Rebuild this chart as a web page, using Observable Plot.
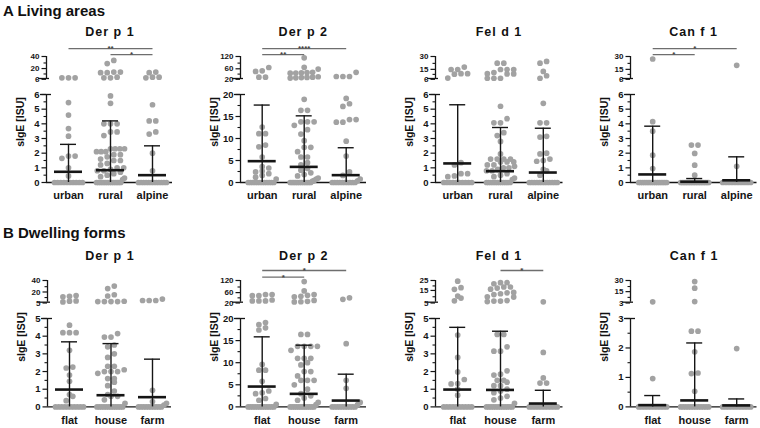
<!DOCTYPE html>
<html><head><meta charset="utf-8">
<script src="https://cdn.jsdelivr.net/npm/d3@7"></script>
<script src="https://cdn.jsdelivr.net/npm/@observablehq/plot@0.6"></script>
<style>
body{margin:0;background:#fff;}
#chart{position:relative;width:760px;height:428px;overflow:hidden;font-family:"Liberation Sans",Arial,sans-serif;color:#111;}
.abs{position:absolute;line-height:1;white-space:nowrap;}
.section{font-size:15px;font-weight:bold;}
.ptitle{font-size:12.5px;font-weight:bold;letter-spacing:1px;transform:translateX(-50%);}
.ylab{font-size:10.5px;font-weight:bold;transform:translate(-50%,-50%) rotate(-90deg);}
</style></head><body><div id="chart"></div>
<script>
// ---------- text ----------
const sectionTitles = ["A Living areas", "B Dwelling forms"];
const livingGroups = ["urban", "rural", "alpine"];
const dwellingGroups = ["flat", "house", "farm"];
const allergens = ["Der p 1", "Der p 2", "Fel d 1", "Can f 1"];
const yLabel = "sIgE [ISU]";

// ---------- A Living areas ----------
const livDerp1Urban = [7, 7, 7, 5.45, 4.6, 3.68, 3.16, 1.8, 1.8, 1.65, 1.0, 0.45, 0,0,0,0,0,0,0,0,0,0];
const livDerp1Rural = [34, 29, 16, 16, 15, 15, 8, 7, 7, 5.9, 5.4, 4.0, 4.0, 4.0, 3.45, 3.45, 3.2, 2.3, 2.3, 2.3, 2.3, 2.1, 2.1, 2.1, 1.9, 1.9, 1.75, 1.6, 1.5, 1.5, 1.3, 1.2, 1.0, 1.0, 0.9, 0.8, 0.8, 0.7, 0.6, 0.5, 0.4, 0.3, 0.2, 0,0,0,0,0,0,0,0,0,0,0,0,0,0];
const livDerp1Alpine = [16, 15, 8, 7, 8, 5.3, 4.2, 4.2, 3.45, 3.3, 2.0, 0.8, 0,0,0,0,0,0,0,0,0,0,0,0];
const livDerp1Median = [0.73, 0.84, 0.5];
const livDerp1Q3 = [2.6, 4.2, 2.5];
const livDerp1UpperTicks = [6, 20, 40];
const livDerp1LowerTicks = [0, 1, 2, 3, 4, 5, 6];
const livDerp1Brackets = [[0, 2, "**", 1], [1, 2, "*", 0]];

const livDerp2Urban = [70, 55, 52, 26, 26, 12.6, 11.1, 11.1, 8.5, 8.1, 5.8, 3.6, 3.3, 2.6, 2.4, 2.0, 1.6, 1.2, 0.8, 0,0,0,0,0,0,0,0,0,0,0,0];
const livDerp2Rural = [114, 71, 63, 48, 47, 46, 45, 44, 28, 26, 25, 24, 23, 22, 18.9, 16.4, 16.4, 13.8, 13.8, 13.8, 13.0, 12.0, 11.0, 9.5, 8.0, 8.0, 7.0, 5.8, 5.8, 4.5, 4.0, 3.2, 2.8, 2.2, 1.8, 1.5, 1.0, 0.8, 0.5, 0.3, 0,0,0,0,0,0,0,0,0,0,0,0];
const livDerp2Alpine = [48, 29, 29, 29, 19.1, 17.9, 17.3, 14.3, 14.3, 13.7, 13.7, 9.4, 6.0, 2.4, 1.6, 0.8, 0.4, 0,0,0,0,0,0,0,0,0,0];
const livDerp2Median = [4.85, 3.55, 1.67];
const livDerp2Q3 = [17.6, 15.15, 7.9];
const livDerp2UpperTicks = [20, 60, 120];
const livDerp2LowerTicks = [0, 5, 10, 15, 20];
const livDerp2Brackets = [[0, 2, "****", 1], [0, 1, "**", 0]];

const livFeld1Urban = [18.5, 15.8, 15.8, 11.3, 11.3, 10.7, 6.5, 1.35, 1.2, 0.6, 0.6, 0.45, 0.4, 0,0,0,0,0,0,0,0,0,0];
const livFeld1Rural = [22.7, 22.7, 15.8, 15.8, 15.8, 12.5, 11.3, 11, 11, 6.3, 6.3, 6.3, 5.2, 4.35, 4.07, 4.07, 3.4, 3.2, 2.8, 1.95, 1.6, 1.6, 1.6, 1.6, 1.4, 1.4, 1.4, 1.2, 1.2, 1.1, 1.0, 1.0, 0.9, 0.8, 0.8, 0.6, 0.5, 0.4, 0.3, 0.2, 0,0,0,0,0,0,0,0,0,0,0,0];
const livFeld1Alpine = [24.6, 22.7, 13.7, 9, 6.3, 5.4, 4.07, 4.07, 3.15, 3.1, 2.0, 1.95, 1.6, 1.5, 1.45, 0.9, 0.8, 0.5, 0,0,0,0,0,0,0,0,0,0,0,0];
const livFeld1Median = [1.3, 0.77, 0.68];
const livFeld1Q3 = [5.3, 3.75, 3.7];
const livFeld1UpperTicks = [6, 15, 30];
const livFeld1LowerTicks = [0, 1, 2, 3, 4, 5, 6];
const livFeld1Brackets = [];

const livCanf1Urban = [27.3, 4.15, 3.5, 1.86, 0.95, 0,0,0,0,0,0,0,0,0,0,0,0,0,0,0,0];
const livCanf1Rural = [2.55, 2.55, 1.98, 1.18, 0.5, 0,0,0,0,0,0,0,0,0,0,0,0,0,0,0,0,0,0];
const livCanf1Alpine = [20.4, 1.1, 0,0,0,0,0,0,0,0,0,0];
const livCanf1Median = [0.55, 0.05, 0.15];
const livCanf1Q3 = [3.84, 0.27, 1.75];
const livCanf1UpperTicks = [6, 15, 30];
const livCanf1LowerTicks = [0, 1, 2, 3, 4, 5, 6];
const livCanf1Brackets = [[0, 2, "*", 1], [0, 1, "*", 0]];

// ---------- B Dwelling forms ----------
const dwDerp1Flat = [15.7, 14.6, 13.8, 7.1, 6.6, 5.5, 4.62, 4.2, 4.2, 4.2, 3.2, 2.25, 2.2, 1.8, 1.45, 0.7, 0.6, 0.35, 0,0,0,0,0,0,0,0,0,0];
const dwDerp1House = [31, 27, 17, 15, 6.5, 6, 6, 6, 6, 4.15, 3.95, 3.95, 3.5, 3.4, 3.0, 2.8, 2.3, 2.3, 2.1, 2.0, 2.0, 2.0, 1.9, 1.6, 1.6, 1.4, 1.2, 0.9, 0.7, 0.6, 0.6, 0.4, 0.2, 0,0,0,0,0,0,0,0,0,0,0,0];
const dwDerp1Farm = [10, 7.7, 7.7, 7.7, 0.94, 0.3, 0.2, 0.1, 0,0,0,0,0,0,0,0,0,0];
const dwDerp1Median = [0.98, 0.66, 0.55];
const dwDerp1Q3 = [3.68, 3.58, 2.7];
const dwDerp1UpperTicks = [5, 20, 40];
const dwDerp1LowerTicks = [0, 1, 2, 3, 4, 5];
const dwDerp1Brackets = [];

const dwDerp2Flat = [55, 55, 50, 50, 30, 26, 26, 26, 19.1, 18.6, 17.9, 17.4, 9.6, 8.3, 8.3, 5.8, 3.6, 3.2, 3.0, 1.9, 1.5, 0.6, 0,0,0,0,0,0,0,0,0,0,0,0];
const dwDerp2House = [115, 72, 55, 52, 47, 45, 28, 24, 22, 21, 16.4, 16.4, 13.7, 13.7, 13.7, 13.7, 12.8, 11, 11, 11, 10, 9.5, 8, 8, 7, 6, 6, 6, 5, 4, 3, 2.5, 2, 1.5, 1, 0.5, 0,0,0,0,0,0,0,0,0,0,0,0];
const dwDerp2Farm = [40, 33, 14.3, 6.0, 4.2, 1.0, 0.5, 0,0,0,0,0,0,0,0,0,0];
const dwDerp2Median = [4.6, 2.95, 1.43];
const dwDerp2Q3 = [15.85, 13.96, 7.4];
const dwDerp2UpperTicks = [20, 60, 120];
const dwDerp2LowerTicks = [0, 5, 10, 15, 20];
const dwDerp2Brackets = [[0, 2, "*", 1], [0, 1, "*", 0]];

const dwFeld1Flat = [24.4, 18.4, 16.9, 10.6, 8.75, 6.25, 4.06, 2.8, 1.98, 1.55, 1.32, 1.3, 1.0, 0.66, 0,0,0,0,0,0,0,0,0,0];
const dwFeld1House = [23, 23, 22, 19, 19, 18, 17, 14, 13.6, 12.8, 12, 10, 9.7, 6.5, 6, 6, 5.6, 4.1, 4.1, 3.4, 3.15, 3.15, 2.04, 1.85, 1.8, 1.5, 1.5, 1.4, 1.2, 1.2, 1.0, 0.9, 0.8, 0.6, 0.5, 0.4, 0.2, 0,0,0,0,0,0,0,0,0,0,0,0];
const dwFeld1Farm = [5.3, 3.08, 1.64, 1.35, 1.35, 0,0,0,0,0,0,0,0,0,0];
const dwFeld1Median = [0.98, 0.96, 0.19];
const dwFeld1Q3 = [4.5, 4.28, 0.94];
const dwFeld1UpperTicks = [5, 15, 25];
const dwFeld1LowerTicks = [0, 1, 2, 3, 4, 5];
const dwFeld1Brackets = [[1, 2, "*", 1]];

const dwCanf1Flat = [3.5, 0.96, 0,0,0,0,0,0,0,0,0,0];
const dwCanf1House = [28.6, 20.5, 3.8, 2.57, 2.57, 1.87, 1.15, 1.13, 0.53, 0,0,0,0,0,0,0,0,0,0,0,0];
const dwCanf1Farm = [1.98, 0,0,0,0,0,0,0,0,0,0];
const dwCanf1Median = [0.06, 0.22, 0.05];
const dwCanf1Q3 = [0.385, 2.17, 0.27];
const dwCanf1UpperTicks = [3, 15, 30];
const dwCanf1LowerTicks = [0, 1, 2, 3];
const dwCanf1Brackets = [];

// ---------- layout ----------
const ink = "#151515", dotColor = "#a2a2a2", bracketColor = "#6e6e6e";
const fontFamily = '"Liberation Sans", Arial, Helvetica, sans-serif';
const rows = [
  {groups: livingGroups, yMaxU: 56, yBrkU: 78, yBrkL: 94.3, yZero: 182.3, titleBase: 36.5, ylabY: 122, sectionBase: 15.5, bracketDy: [-1.8, -7.8]},
  {groups: dwellingGroups, yMaxU: 280, yBrkU: 301.7, yBrkL: 318.3, yZero: 406.7, titleBase: 261, ylabY: 337, sectionBase: 237.5, bracketDy: [-3.4, -10]}
];
const panels = [
  {row: 0, name: allergens[0], values: [livDerp1Urban, livDerp1Rural, livDerp1Alpine], median: livDerp1Median, q3: livDerp1Q3, up: livDerp1UpperTicks, low: livDerp1LowerTicks, br: livDerp1Brackets, axisX: 46, cats: [68, 110, 152], xEnd: 172},
  {row: 0, name: allergens[1], values: [livDerp2Urban, livDerp2Rural, livDerp2Alpine], median: livDerp2Median, q3: livDerp2Q3, up: livDerp2UpperTicks, low: livDerp2LowerTicks, br: livDerp2Brackets, axisX: 240, cats: [261.7, 303.3, 345.7], xEnd: 366},
  {row: 0, name: allergens[2], values: [livFeld1Urban, livFeld1Rural, livFeld1Alpine], median: livFeld1Median, q3: livFeld1Q3, up: livFeld1UpperTicks, low: livFeld1LowerTicks, br: livFeld1Brackets, axisX: 434.5, cats: [456.7, 499, 542.3], xEnd: 562},
  {row: 0, name: allergens[3], values: [livCanf1Urban, livCanf1Rural, livCanf1Alpine], median: livCanf1Median, q3: livCanf1Q3, up: livCanf1UpperTicks, low: livCanf1LowerTicks, br: livCanf1Brackets, axisX: 629.5, cats: [651.7, 693.5, 735.7], xEnd: 756},
  {row: 1, name: allergens[0], values: [dwDerp1Flat, dwDerp1House, dwDerp1Farm], median: dwDerp1Median, q3: dwDerp1Q3, up: dwDerp1UpperTicks, low: dwDerp1LowerTicks, br: dwDerp1Brackets, axisX: 47, cats: [69, 110, 152], xEnd: 171},
  {row: 1, name: allergens[1], values: [dwDerp2Flat, dwDerp2House, dwDerp2Farm], median: dwDerp2Median, q3: dwDerp2Q3, up: dwDerp2UpperTicks, low: dwDerp2LowerTicks, br: dwDerp2Brackets, axisX: 240, cats: [261.7, 303.8, 345.7], xEnd: 366},
  {row: 1, name: allergens[2], values: [dwFeld1Flat, dwFeld1House, dwFeld1Farm], median: dwFeld1Median, q3: dwFeld1Q3, up: dwFeld1UpperTicks, low: dwFeld1LowerTicks, br: dwFeld1Brackets, axisX: 434.5, cats: [456.7, 499, 542.3], xEnd: 562},
  {row: 1, name: allergens[3], values: [dwCanf1Flat, dwCanf1House, dwCanf1Farm], median: dwCanf1Median, q3: dwCanf1Q3, up: dwCanf1UpperTicks, low: dwCanf1LowerTicks, br: dwCanf1Brackets, axisX: 629.5, cats: [651.7, 694, 735.7], xEnd: 756}
];

const chart = document.getElementById("chart");
function place(node, left, top) {
  const d = document.createElement("div");
  d.className = "abs"; d.style.left = left + "px"; d.style.top = top + "px";
  d.appendChild(node); chart.appendChild(d); return d;
}
function label(text, cls, left, top) {
  const d = document.createElement("div");
  d.className = "abs " + cls; d.textContent = text;
  d.style.left = left + "px"; d.style.top = top + "px";
  chart.appendChild(d); return d;
}
const mids = t => t.slice(1).map((v, k) => (v + t[k]) / 2);
const fmt = d => String(d);

// dot-plot layout: points at nearly the same height are spread sideways
function swarm(vals, toPx, unit, i, out) {
  const s = vals.slice().sort((a, b) => a - b);
  let cl = [];
  const flush = () => {
    const n = cl.length;
    const sp = n > 1 ? Math.min(6.6, 28 / (n - 1)) : 0;
    cl.forEach((v, k) => out.push({x: i + (k - (n - 1) / 2) * sp / unit, v}));
    cl = [];
  };
  for (const v of s) {
    if (cl.length && Math.abs(toPx(v) - toPx(cl[0])) > 4.5) flush();
    cl.push(v);
  }
  flush();
}

const svgStyle = {fontFamily, fontSize: "9px", fontWeight: "bold", overflow: "visible", background: "transparent", color: ink};

panels.forEach(p => {
  const r = rows[p.row];
  const groups = r.groups;
  const ML = 40, MR = 3;
  const svgLeft = p.axisX - ML;
  const width = p.xEnd + MR - svgLeft;
  const unit = (p.cats[2] - p.cats[0]) / 2;
  const lo = -(p.cats[0] - p.axisX) / unit;
  const hi = 2 + (p.xEnd - p.cats[2]) / unit;
  const brk = p.up[0], max = p.up[p.up.length - 1];
  const uMT = 22, uMB = 5, lMT = 6, lMB = 26;
  const uTop = r.yMaxU - uMT, uH = r.yBrkU + uMB - uTop;
  const lTop = r.yBrkL - lMT, lH = r.yZero + lMB - lTop;
  const uScale = d3.scaleLinear([brk, max], [r.yBrkU, r.yMaxU]);
  const lScale = d3.scaleLinear([0, brk], [r.yZero, r.yBrkL]);
  const upperPts = [], lowerPts = [];
  p.values.forEach((vals, i) => {
    swarm(vals.filter(v => v > brk), uScale, unit, i, upperPts);
    swarm(vals.filter(v => v <= brk), lScale, unit, i, lowerPts);
  });
  const stats = groups.map((g, i) => ({i, median: p.median[i], q3: p.q3[i]}));
  const brs = p.br.map(([from, to, text, level]) => ({from, to, text, level}));

  const bracketMarks = [];
  [0, 1].forEach(level => {
    const b = brs.filter(d => d.level === level);
    if (!b.length) return;
    bracketMarks.push(Plot.link(b, {x1: "from", x2: "to", y1: () => max, y2: () => max, dy: r.bracketDy[level], stroke: bracketColor, strokeWidth: 1.3}));
    bracketMarks.push(Plot.text(b, {x: d => (d.from + d.to) / 2, y: () => max, text: "text", dy: r.bracketDy[level] + 2.5, lineAnchor: "bottom", fontSize: 8, fill: "#444"}));
  });

  const upLabelOpts = {tickFormat: fmt, tickSize: 4.5, tickPadding: 2.5, label: null, fontSize: 8, fontWeight: "bold", stroke: ink, strokeWidth: 1.2};
  const upper = Plot.plot({
    width, height: uH, marginLeft: ML, marginRight: MR, marginTop: uMT, marginBottom: uMB,
    x: {domain: [lo, hi], axis: null},
    y: {domain: [brk, max], label: null},
    style: svgStyle,
    marks: [
      Plot.ruleX([lo], {stroke: ink, strokeWidth: 1.3}),
      Plot.ruleY([brk], {x1: lo - 8 / unit, x2: lo + 3 / unit, stroke: ink, strokeWidth: 1.3}),
      Plot.axisY({...upLabelOpts, ticks: [p.up[0]], dy: 0.8}),
      Plot.axisY({...upLabelOpts, ticks: [p.up[1]], dy: -0.9}),
      Plot.axisY({...upLabelOpts, ticks: [p.up[2]]}),
      Plot.axisY({ticks: mids(p.up), tickSize: 2.5, tickFormat: () => "", label: null, stroke: ink, strokeWidth: 1.1}),
      Plot.dot(upperPts, {x: "x", y: "v", r: 2.85, fill: dotColor}),
      ...bracketMarks
    ]
  });
  place(upper, svgLeft, uTop);

  const lower = Plot.plot({
    width, height: lH, marginLeft: ML, marginRight: MR, marginTop: lMT, marginBottom: lMB,
    x: {domain: [lo, hi], label: null},
    y: {domain: [0, brk], label: null},
    style: svgStyle,
    marks: [
      Plot.ruleX([lo], {stroke: ink, strokeWidth: 1.3}),
      Plot.ruleY([0], {stroke: ink, strokeWidth: 1.3}),
      Plot.ruleY([brk], {x1: lo - 6 / unit, x2: lo + 5 / unit, stroke: ink, strokeWidth: 1.3}),
      Plot.axisY({ticks: p.low, tickFormat: fmt, tickSize: 4.5, tickPadding: 2.5, label: null, fontSize: 9.5, fontWeight: "bold", stroke: ink, strokeWidth: 1.2}),
      Plot.axisY({ticks: mids(p.low), tickSize: 2.5, tickFormat: () => "", label: null, stroke: ink, strokeWidth: 1.1}),
      Plot.axisX({ticks: [0, 1, 2], tickFormat: i => groups[i], tickSize: 0, tickPadding: 9, label: null, fontSize: 11, fontWeight: "bold"}),
      Plot.dot(lowerPts, {x: "x", y: "v", r: 2.85, fill: dotColor}),
      Plot.ruleX(stats, {x: "i", y1: () => 0, y2: "q3", stroke: ink, strokeWidth: 1.4}),
      Plot.ruleY(stats, {y: "q3", x1: d => d.i - 8 / unit, x2: d => d.i + 8 / unit, stroke: ink, strokeWidth: 1.4}),
      Plot.ruleY(stats, {y: "median", x1: d => d.i - 14 / unit, x2: d => d.i + 14 / unit, stroke: ink, strokeWidth: 2.6})
    ]
  });
  place(lower, svgLeft, lTop);

  label(p.name, "ptitle", p.cats[1], r.titleBase - 0.8465 * 12.5);
  label(yLabel, "ylab", p.axisX - 26, r.ylabY);
});
rows.forEach((r, k) => label(sectionTitles[k], "section", 3, r.sectionBase - 0.8465 * 15));
</script></body></html>
